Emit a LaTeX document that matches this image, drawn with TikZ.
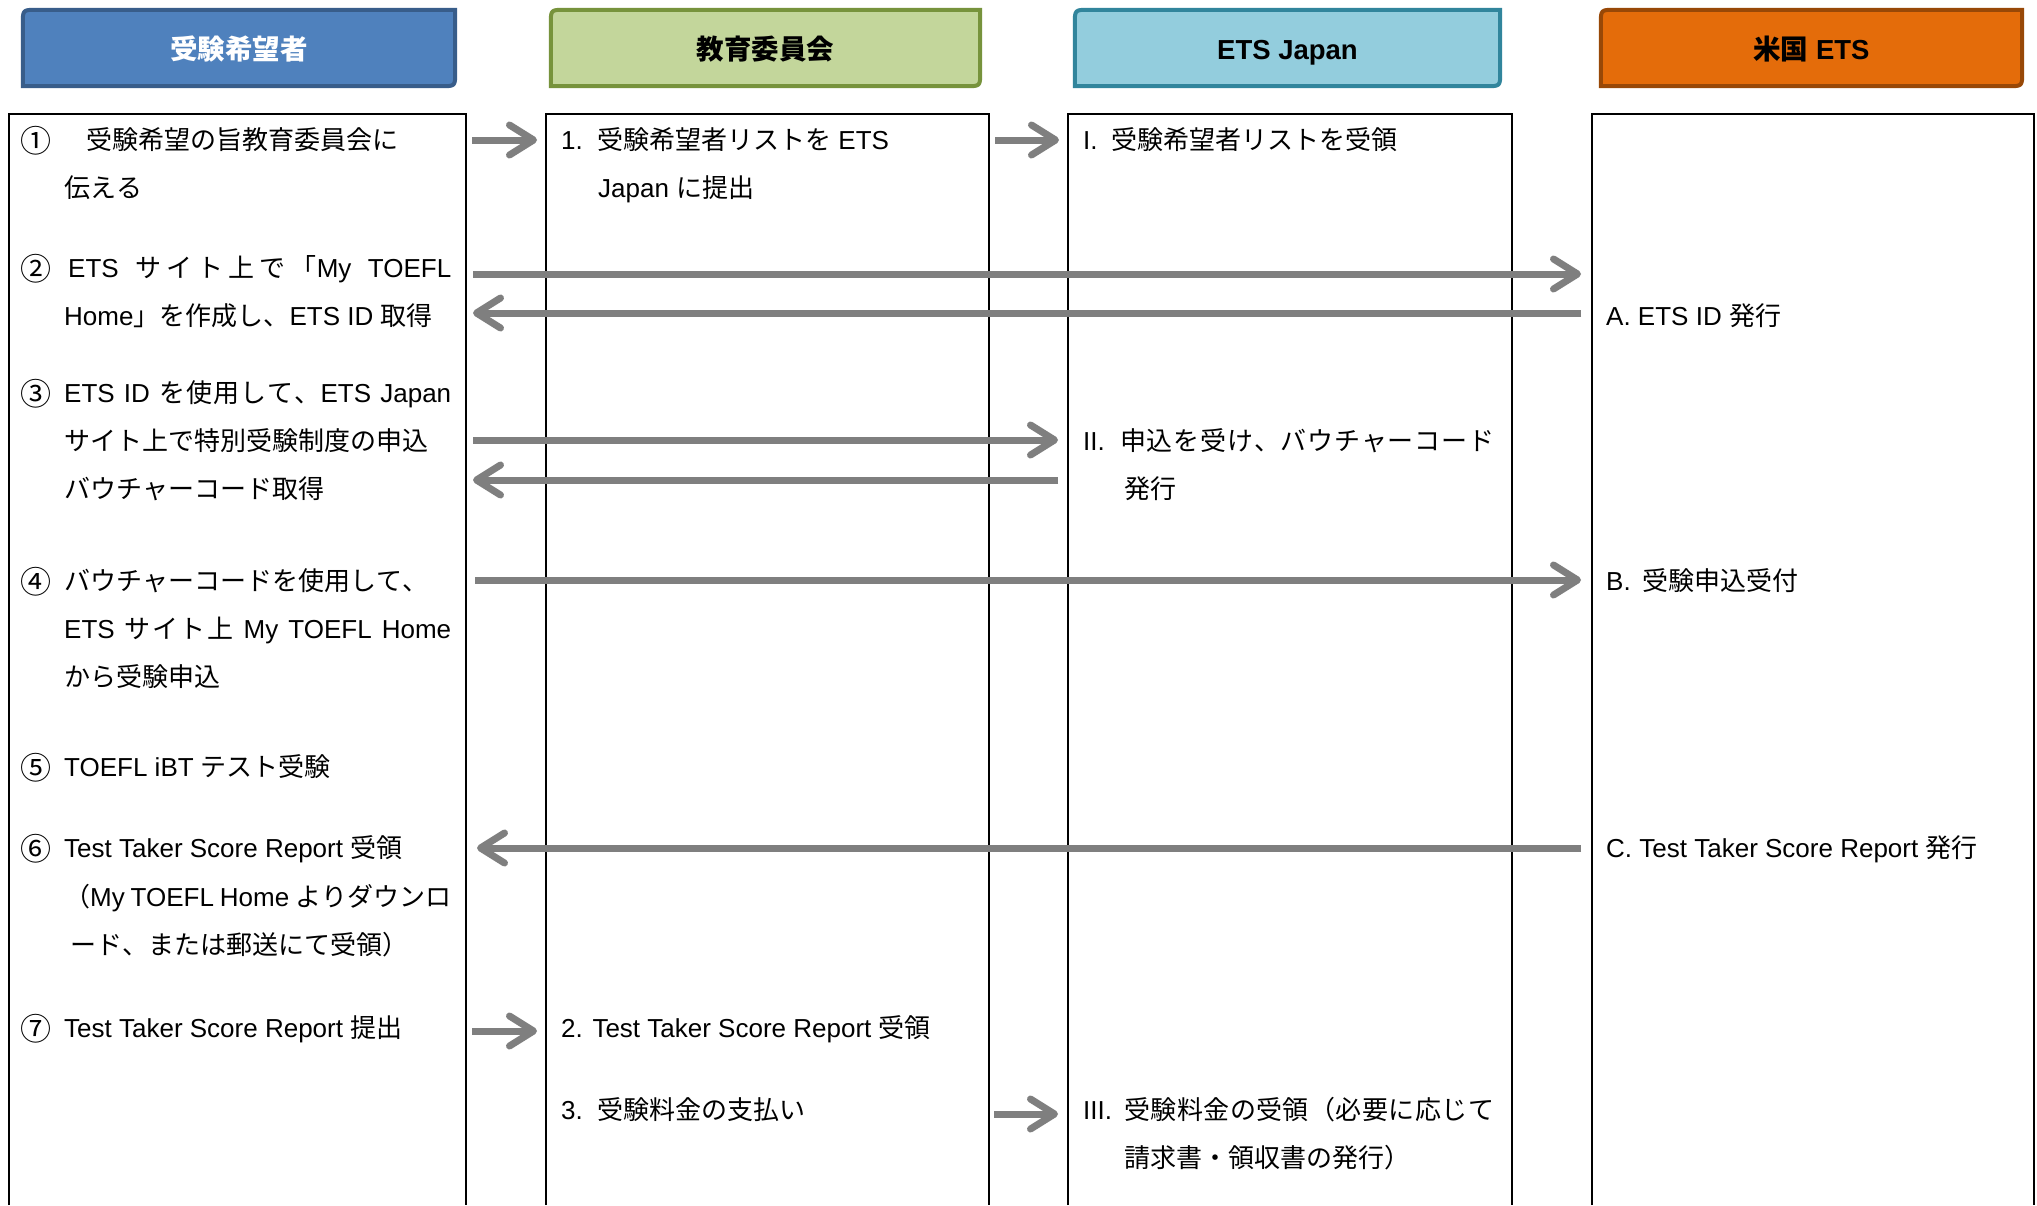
\documentclass[tikz,border=0pt]{standalone}
\usepackage{fontspec}
\setmainfont{Liberation Sans}
\newfontfamily\jpfont{Noto Sans CJK JP}
\usetikzlibrary{arrows.meta}

% automatic switch to the Japanese font for CJK characters
\XeTeXinterchartokenstate=1
\def\setjpclass#1#2{\count255=#1\relax
  \loop\XeTeXcharclass\count255=7\relax
  \ifnum\count255<#2\relax\advance\count255 by 1\relax\repeat}
\setjpclass{"2460}{"24FF}
\setjpclass{"3000}{"30FF}
\setjpclass{"4E00}{"9FFF}
\setjpclass{"FF00}{"FFEF}
\XeTeXinterchartoks 0 7 = {\jpfont}
\XeTeXinterchartoks 4095 7 = {\jpfont}
\XeTeXinterchartoks 7 0 = {\rmfamily}
\XeTeXinterchartoks 7 4095 = {\rmfamily}
\XeTeXinterchartoks 7 7 = {\hskip 0pt plus 2pt\relax}

\definecolor{hblue}{HTML}{4F81BD}
\definecolor{hblueb}{HTML}{385D8A}
\definecolor{hgreen}{HTML}{C3D69B}
\definecolor{hgreenb}{HTML}{77933C}
\definecolor{hcyan}{HTML}{93CDDD}
\definecolor{hcyanb}{HTML}{31859C}
\definecolor{horange}{HTML}{E46C0A}
\definecolor{horangeb}{HTML}{984807}
\definecolor{flowgray}{HTML}{7F7F7F}

\newcommand\hdrshape[3]{%
  \draw[line width=4pt, draw=#3, fill=#2]
    (#1.south west) -- ([yshift=-14pt]#1.north west)
    .. controls (#1.north west) .. ([xshift=14pt]#1.north west)
    -- (#1.north east) -- ([yshift=14pt]#1.south east)
    .. controls (#1.south east) .. ([xshift=-14pt]#1.south east) -- cycle;}
% circled number in a box of width #1, a little larger than the text
\newcommand\cn[2]{\makebox[#1][l]{\raisebox{-3.5pt}{\fontsize{31}{31}\selectfont #2}}}

\begin{document}
\begin{tikzpicture}[x=1pt,y=-1pt,
  hdr/.style={minimum height=76pt, inner sep=0pt},
  hdrtxt/.style={anchor=base, inner sep=0pt,
    font=\fontsize{27.5}{30}\selectfont\bfseries},
  colarea/.style={inner sep=0pt, minimum height=1091pt},
  colframe/.style={draw=black, line width=2pt},
  txt/.style={anchor=base west, inner sep=0pt, font=\fontsize{26}{30}\selectfont},
  flow/.style={draw=flowgray, line width=7pt,
    -{Straight Barb[length=24pt,width=30pt,round]}}]

\useasboundingbox[fill=white] (0,0) rectangle (2037,1205);

% headers
\node[hdr, minimum width=432pt] (h1) at (239,48) {};
\node[hdr, minimum width=429pt] (h2) at (765.5,48) {};
\node[hdr, minimum width=425pt] (h3) at (1287.5,48) {};
\node[hdr, minimum width=421pt] (h4) at (1811.5,48) {};
\hdrshape{h1}{hblue}{hblueb}
\hdrshape{h2}{hgreen}{hgreenb}
\hdrshape{h3}{hcyan}{hcyanb}
\hdrshape{h4}{horange}{horangeb}
\node[hdrtxt, text=white] (h1t) at ([yshift=-11pt]h1.center) {受験希望者};
\node[hdrtxt] (h2t) at ([yshift=-11pt]h2.center) {教育委員会};
\node[hdrtxt] (h3t) at ([yshift=-11pt]h3.center) {ETS Japan};
\node[hdrtxt] (h4t) at ([yshift=-11pt]h4.center) {米国 ETS};

% columns
\node[colarea, minimum width=457pt] (c1) at (237.5,659.5) {};
\node[colarea, minimum width=443pt] (c2) at (767.5,659.5) {};
\node[colarea, minimum width=444pt] (c3) at (1290,659.5) {};
\node[colarea, minimum width=442pt] (c4) at (1813,659.5) {};
\foreach \c in {c1,c2,c3,c4}
  \draw[colframe] (\c.south west) |- (\c.north east) -- (\c.south east);

% column 1
\node[txt] (t1a) at (20,149) {\cn{66pt}{①}受験希望の旨教育委員会に};
\node[txt] (t1b) at (64,197) {伝える};
\node[txt] (t2a) at (20,277) {\cn{48pt}{②}\makebox[383pt][s]{ETS サイト上で「My TOEFL}};
\node[txt] (t2b) at (64,325) {Home」を作成し、ETS ID 取得};
\node[txt] (t3a) at (20,402) {\cn{44pt}{③}\makebox[387pt][s]{ETS ID を使用して、ETS Japan}};
\node[txt] (t3b) at (64,450) {サイト上で特別受験制度の申込};
\node[txt] (t3c) at (64,498) {バウチャーコード取得};
\node[txt] (t4a) at (20,590) {\cn{44pt}{④}バウチャーコードを使用して、};
\node[txt] (t4b) at (64,638) {\makebox[387pt][s]{ETS サイト上 My TOEFL Home}};
\node[txt] (t4c) at (64,686) {から受験申込};
\node[txt] (t5) at (20,776) {\cn{44pt}{⑤}TOEFL iBT テスト受験};
\node[txt] (t6a) at (20,857) {\cn{44pt}{⑥}Test Taker Score Report 受領};
\node[txt] (t6b) at (64,906) {\makebox[387pt][s]{（My TOEFL Home よりダウンロ}};
\node[txt] (t6c) at (70,954) {ード、または郵送にて受領）};
\node[txt] (t7) at (20,1037) {\cn{44pt}{⑦}Test Taker Score Report 提出};

% column 2
\node[txt] (u1a) at (561,149) {\makebox[36pt][l]{1.}受験希望者リストを ETS};
\node[txt] (u1b) at (598,197) {Japan に提出};
\node[txt] (u2) at (561,1037) {2. Test Taker Score Report 受領};
\node[txt] (u3) at (561,1119) {\makebox[36pt][l]{3.}受験料金の支払い};

% column 3
\node[txt] (v1) at (1083,149) {\makebox[28pt][l]{I.}受験希望者リストを受領};
\node[txt] (v2a) at (1083,450) {\makebox[37pt][l]{II.}\makebox[374pt][s]{申込を受け、バウチャーコード}};
\node[txt] (v2b) at (1124,498) {発行};
\node[txt] (v3a) at (1083,1119) {\makebox[41pt][l]{III.}\makebox[370pt][s]{受験料金の受領（必要に応じて}};
\node[txt] (v3b) at (1124,1167) {請求書・領収書の発行）};

% column 4
\node[txt] (w1) at (1606,325) {A. ETS ID 発行};
\node[txt] (w2) at (1606,590) {B.\hspace{4pt} 受験申込受付};
\node[txt] (w3) at (1606,857) {C. Test Taker Score Report 発行};

% arrow end points
\coordinate (a1s) at (472,140);  \coordinate (a1e) at (537,140);
\coordinate (a2s) at (995,140);  \coordinate (a2e) at (1059,140);
\coordinate (a3s) at (473,274);  \coordinate (a3e) at (1581,274);
\coordinate (a4s) at (1581,313); \coordinate (a4e) at (473,313);
\coordinate (a5s) at (473,440);  \coordinate (a5e) at (1058,440);
\coordinate (a6s) at (1058,480); \coordinate (a6e) at (473,480);
\coordinate (a7s) at (475,580);  \coordinate (a7e) at (1581,580);
\coordinate (a8s) at (1581,848); \coordinate (a8e) at (477,848);
\coordinate (a9s) at (472,1031); \coordinate (a9e) at (537,1031);
\coordinate (a10s) at (994,1114); \coordinate (a10e) at (1058,1114);

\foreach \i in {1,...,10}
  \draw[flow] (a\i s) -- (a\i e);

\end{tikzpicture}
\end{document}
